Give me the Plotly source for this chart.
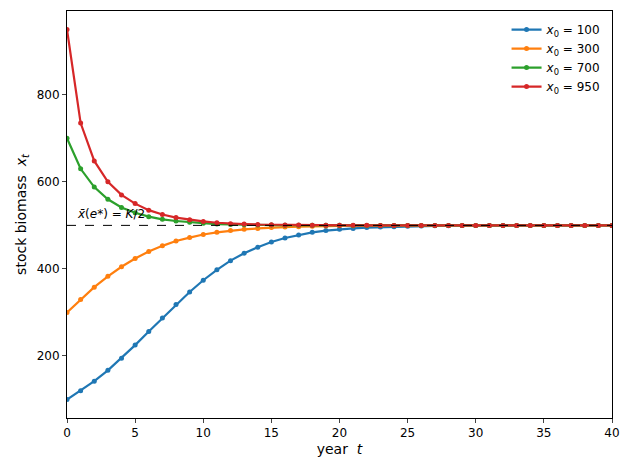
import plotly.graph_objects as go

years = list(range(41))
x0_labels = ["100", "300", "700", "950"]
colors = ["#1f77b4", "#ff7f0e", "#2ca02c", "#d62728"]

stock_100 = [100, 120, 142, 167, 195, 225, 256, 287, 318, 347, 374, 398, 419, 436, 450,
             462, 471, 478, 484, 488, 491, 493, 495, 496, 497, 498, 498.5, 499, 499.3, 499.5,
             499.6, 499.7, 499.8, 499.8, 499.9, 499.9, 499.9, 500, 500, 500, 500]
stock_300 = [300, 330, 358, 383, 405, 424, 440, 453, 464, 472, 479, 484, 488, 491, 493,
             495, 496, 497, 498, 498.5, 499, 499.3, 499.5, 499.6, 499.7, 499.8, 499.8, 499.9,
             499.9, 499.9, 500, 500, 500, 500, 500, 500, 500, 500, 500, 500, 500]
stock_700 = [700, 630, 588, 560, 541, 529, 520, 514, 510, 507, 505, 503, 502, 501.5, 501,
             500.7, 500.5, 500.3, 500.2, 500.1, 500.1, 500, 500, 500, 500, 500, 500, 500, 500,
             500, 500, 500, 500, 500, 500, 500, 500, 500, 500, 500, 500]
stock_950 = [950, 735, 648, 600, 570, 550, 535, 525, 518, 513, 509, 506, 504, 503, 502,
             501.5, 501, 500.7, 500.5, 500.3, 500.2, 500.1, 500.1, 500, 500, 500, 500, 500,
             500, 500, 500, 500, 500, 500, 500, 500, 500, 500, 500, 500, 500]
series = [stock_100, stock_300, stock_700, stock_950]
equilibrium = 500

fig = go.Figure()
for lab, c, ys in zip(x0_labels, colors, series):
    fig.add_trace(go.Scatter(x=years, y=ys, mode="lines+markers",
                             name=f"<i>x</i><sub>0</sub> = {lab}",
                             line=dict(color=c, width=2.2), marker=dict(color=c, size=5)))

fig.add_hline(y=equilibrium, line=dict(color="black", width=1, dash="dash"))
fig.add_annotation(x=0, y=equilibrium, text="<i>x̄</i>(<i>e</i>*) = <i>K</i>/2", showarrow=False,
                   xanchor="left", yanchor="bottom", xshift=8, yshift=2,
                   font=dict(size=12, color="black"))

axis = dict(showline=True, linecolor="black", mirror=True, ticks="outside",
            ticklen=4, showgrid=False, zeroline=False, tickfont=dict(size=12, color="black"))
fig.update_xaxes(range=[0, 40], dtick=5, title=dict(text="year  <i>t</i>", standoff=4), **axis)
fig.update_yaxes(range=[57.5, 992.5], tickvals=[200, 400, 600, 800],
                 title=dict(text="stock biomass  <i>x<sub>t</sub></i>", standoff=6), **axis)
fig.update_layout(
    width=630, height=470, plot_bgcolor="white", paper_bgcolor="white",
    font=dict(family="DejaVu Sans", size=12, color="black"),
    margin=dict(l=59, r=26, t=3, b=60),
    legend=dict(x=0.99, y=0.99, xanchor="right", yanchor="top", bgcolor="rgba(0,0,0,0)",
                font=dict(size=12)),
)
fig.write_html("out.html")
